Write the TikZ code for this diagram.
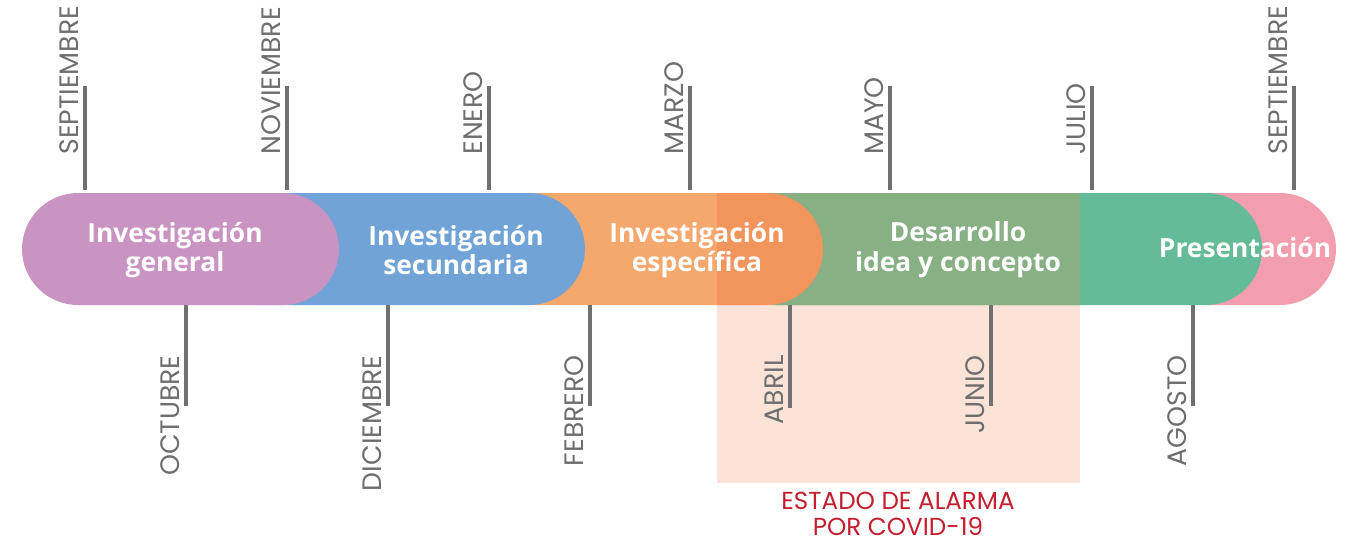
\documentclass[tikz,border=0pt]{standalone}
\usepackage{fontspec}
\setmainfont{Open Sans}
\newfontfamily\monthfont{Poppins}
\usepackage{tikz}
\usetikzlibrary{calc}
\definecolor{general}{HTML}{C994C2}
\definecolor{secundaria}{HTML}{71A3D6}
\definecolor{especifica}{HTML}{F5A86E}
\definecolor{especificadark}{HTML}{F2955C}
\definecolor{desarrollo}{HTML}{87B085}
\definecolor{teal}{HTML}{64BB98}
\definecolor{presenta}{HTML}{F29EAE}
\definecolor{alarmbg}{HTML}{FBE3D8}
\definecolor{tickgray}{HTML}{707070}
\definecolor{monthgray}{HTML}{6E6E6E}
\definecolor{alarmred}{HTML}{C41E2E}
\tikzset{
  pill/.style={rounded corners=1.12cm},
  monthtick/.style={draw=tickgray, line width=2.7pt},
  phase/.style={text=white, align=center, inner sep=0pt,
    font=\bfseries\fontsize{15}{17}\selectfont},
  mup/.style={rotate=90, anchor=south west, inner sep=0pt, text=monthgray,
    font=\monthfont\fontsize{15.2}{15}\selectfont},
  mdown/.style={rotate=90, anchor=south east, inner sep=0pt, text=monthgray,
    font=\monthfont\fontsize{15.2}{15}\selectfont},
  alarm/.style={text=alarmred, align=center, inner sep=0pt,
    font=\monthfont\fontsize{14}{15}\selectfont}
}

\begin{document}
\begin{tikzpicture}[x=0.02cm, y=-0.02cm]
  \useasboundingbox (0,0) rectangle (1354,545);

  % covid background
  \fill[alarmbg] (717,193) rectangle (1080,483);

  % phases, right to left
  \fill[presenta, pill] (1150,193) rectangle (1336,305);
  \fill[teal, pill] (720,193) rectangle (1262,305);
  \fill[especifica, pill] (470,193) rectangle (823,305);
  \fill[secundaria, pill] (200,193) rectangle (585,305);
  \fill[general, pill] (22,193) rectangle (339,305);

  % phases under the alarm period
  \begin{scope}
    \clip (717,193) rectangle (1080,305);
    \fill[desarrollo, pill] (720,193) rectangle (1262,305);
    \fill[especificadark, pill] (470,193) rectangle (823,305);
  \end{scope}

  \node[phase] (gen) at (175,250) {Investigación\\general};
  \node[phase] (sec) at (456,250) {Investigación\\secundaria};
  \node[phase] (esp) at (697,250) {Investigación\\específica};
  \node[phase] (des) at (958,250) {Desarrollo\\idea y concepto};
  \node[phase] (pre) at (1245,248) {Presentación};

  % months above
  \draw[monthtick] (85,86) -- (85,190);
  \draw[monthtick] (287,86) -- (287,190);
  \draw[monthtick] (489,86) -- (489,190);
  \draw[monthtick] (690,86) -- (690,190);
  \draw[monthtick] (890,86) -- (890,190);
  \draw[monthtick] (1092,86) -- (1092,190);
  \draw[monthtick] (1294,86) -- (1294,190);
  \node[mup] (sep) at (79,155) {SEPTIEMBRE};
  \node[mup] (nov) at (281,155) {NOVIEMBRE};
  \node[mup] (ene) at (483,155) {ENERO};
  \node[mup] (mar) at (684,155) {MARZO};
  \node[mup] (may) at (884,155) {MAYO};
  \node[mup] (jul) at (1086,155) {JULIO};
  \node[mup] (sep2) at (1288,155) {SEPTIEMBRE};

  % months below
  \draw[monthtick] (186,305) -- (186,406);
  \draw[monthtick] (388,305) -- (388,406);
  \draw[monthtick] (590,305) -- (590,406);
  \draw[monthtick] (790,305) -- (790,408);
  \draw[monthtick] (991,305) -- (991,406);
  \draw[monthtick] (1193,305) -- (1193,406);
  \node[mdown] (oct) at (180,355) {OCTUBRE};
  \node[mdown] (dic) at (382,355) {DICIEMBRE};
  \node[mdown] (feb) at (584,355) {FEBRERO};
  \node[mdown] (abr) at (784,355) {ABRIL};
  \node[mdown] (jun) at (985,355) {JUNIO};
  \node[mdown] (ago) at (1187,355) {AGOSTO};

  \node[alarm] (covid) at (898,514) {ESTADO DE ALARMA\\POR COVID-19};
\end{tikzpicture}
\end{document}
